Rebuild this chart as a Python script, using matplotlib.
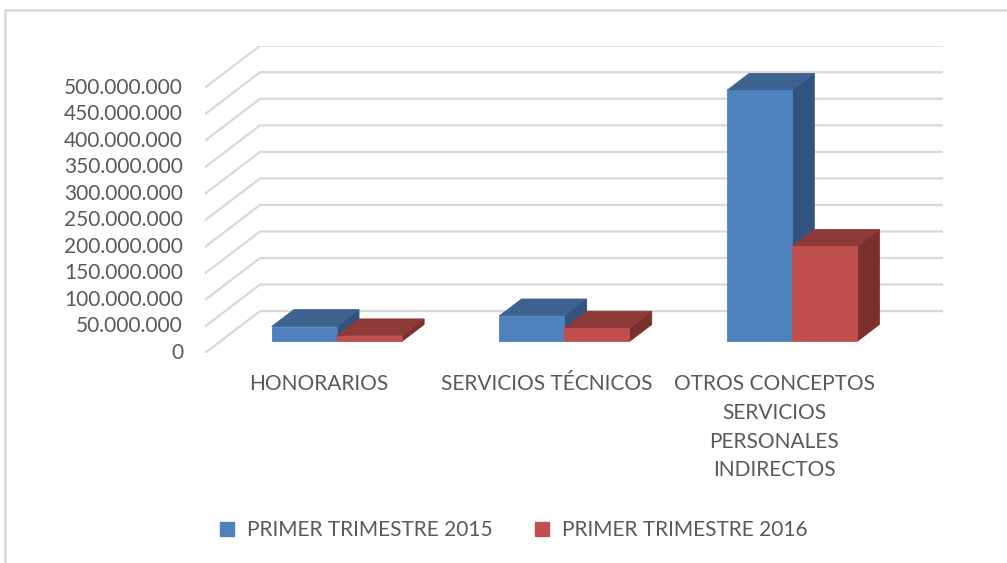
import matplotlib
matplotlib.use("Agg")
import matplotlib.pyplot as plt
import matplotlib.transforms as mtransforms
from matplotlib.patches import Polygon
from matplotlib.lines import Line2D

# ---- data ----
categories = ["HONORARIOS", "SERVICIOS TÉCNICOS",
              "OTROS CONCEPTOS\nSERVICIOS\nPERSONALES\nINDIRECTOS"]
series_names = ["PRIMER TRIMESTRE 2015", "PRIMER TRIMESTRE 2016"]
values_2015 = [28e6, 48e6, 473e6]
values_2016 = [10.5e6, 25e6, 179e6]
y_ticks = [0, 50e6, 100e6, 150e6, 200e6, 250e6, 300e6, 350e6, 400e6, 450e6, 500e6]
y_tick_labels = ["0", "50.000.000", "100.000.000", "150.000.000", "200.000.000",
                 "250.000.000", "300.000.000", "350.000.000", "400.000.000",
                 "450.000.000", "500.000.000"]

# ---- style ----
front_cols = ["#4F81BD", "#C0504D"]
top_cols = ["#3D6290", "#8E3A38"]
side_cols = ["#30537F", "#7B302E"]
grid_col = "#D9D9D9"
text_col = "#595959"
FONT = ["Lato", "DejaVu Sans"]
FS = 15

W, H = 1007, 563
fig = plt.figure(figsize=(W / 100, H / 100), dpi=100)

# oblique 3D geometry (in data units)
n = len(categories)
ymax = 500e6
depth_dx = 0.242          # category units
depth_dy = 79e6           # value units
f0, f1 = 0.276, 0.68      # bar depth span (fraction of floor depth)
bar_w = 0.286
group_shift = 0.012

# axes placement (pixels)
px_left, px_right = 205, 943
px_bottom, px_top = 353, 45.7
ax = fig.add_axes([px_left / W, 1 - px_bottom / H,
                   (px_right - px_left) / W, (px_bottom - px_top) / H])
ax.set_xlim(0, n + depth_dx)
ax.set_ylim(0, ymax + depth_dy)
ax.axis("off")

# gridlines (side wall diagonal + back wall)
for v, lab in zip(y_ticks, y_tick_labels):
    ax.plot([0, depth_dx, n + depth_dx], [v, v + depth_dy, v + depth_dy],
            color=grid_col, lw=1.6, solid_capstyle="butt", zorder=1)
    ax.annotate(lab, xy=(0, v), xytext=(-22, 0), textcoords="offset pixels",
                ha="right", va="center", fontsize=FS, color=text_col,
                family=FONT, annotation_clip=False)

# bars
series = [values_2015, values_2016]
for i in range(n):
    for s, vals in enumerate(series):
        v = vals[i]
        xl = i + 0.5 + group_shift - bar_w + s * bar_w
        xr = xl + bar_w
        ox0, oy0 = f0 * depth_dx, f0 * depth_dy
        ox1, oy1 = f1 * depth_dx, f1 * depth_dy
        z = 3 + i * 2 + s
        front = Polygon([(xl + ox0, oy0), (xr + ox0, oy0), (xr + ox0, v + oy0), (xl + ox0, v + oy0)],
                        closed=True, fc=front_cols[s], ec=front_cols[s], lw=0.6, zorder=z + 0.2)
        top = Polygon([(xl + ox0, v + oy0), (xr + ox0, v + oy0), (xr + ox1, v + oy1), (xl + ox1, v + oy1)],
                      closed=True, fc=top_cols[s], ec=top_cols[s], lw=0.6, zorder=z + 0.1)
        side = Polygon([(xr + ox0, oy0), (xr + ox1, oy1), (xr + ox1, v + oy1), (xr + ox0, v + oy0)],
                       closed=True, fc=side_cols[s], ec=side_cols[s], lw=0.6, zorder=z)
        for p in (side, top, front):
            ax.add_patch(p)

# category labels, centred under the front-plane category slots
trans = mtransforms.blended_transform_factory(ax.transData, fig.transFigure)
for i, cat in enumerate(categories):
    ax.text(i + 0.5, 1 - 374 / H, cat, transform=trans, ha="center", va="top",
            fontsize=FS, color=text_col, family=FONT, linespacing=1.55, clip_on=False)

# legend
handles = [Line2D([0], [0], marker="s", linestyle="none", markersize=10,
                  markerfacecolor=front_cols[k], markeredgecolor=front_cols[k])
           for k in range(2)]
fig.legend(handles, series_names, loc="center", bbox_to_anchor=(512 / W, 1 - 530 / H),
           ncol=2, frameon=False, labelcolor=text_col,
           handletextpad=0.45, columnspacing=1.9, handlelength=1.0,
           prop={"family": FONT, "size": FS})

# chart border (top and left visible)
fig.add_artist(Line2D([5 / W, 5 / W, 1.0], [0.0, 1 - 10 / H, 1 - 10 / H],
                      transform=fig.transFigure, color=grid_col, lw=1.8))

fig.savefig("out.png", dpi=100, facecolor="white")
